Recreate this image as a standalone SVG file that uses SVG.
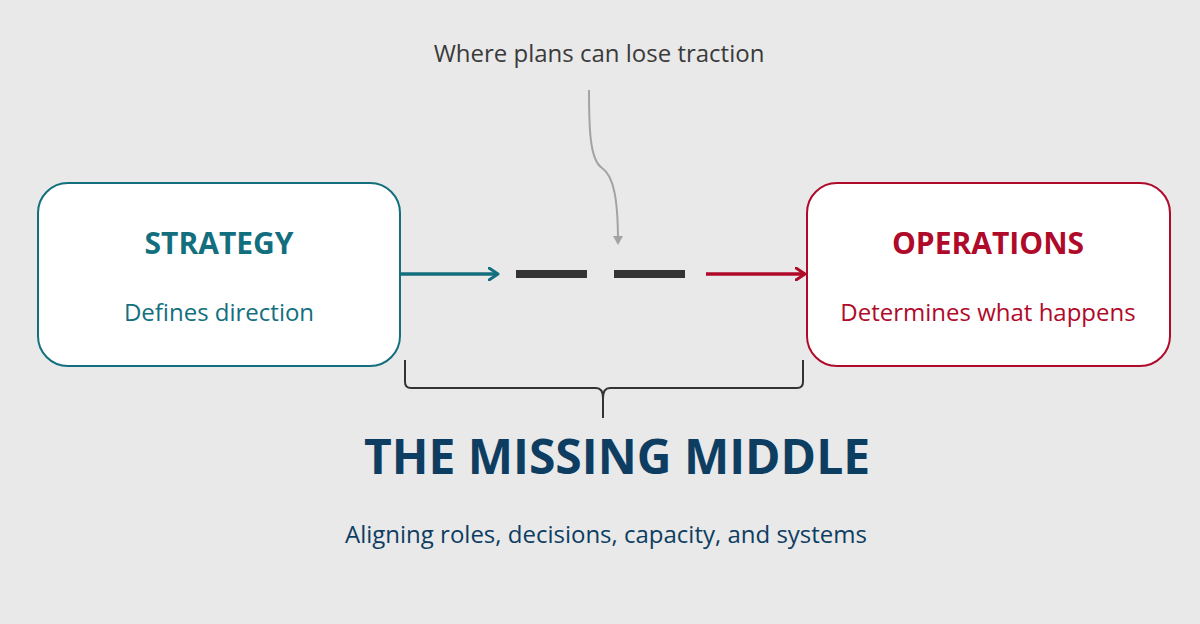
<svg xmlns="http://www.w3.org/2000/svg" width="1200" height="624" viewBox="0 0 1200 624">
<style>
text{font-family:"Open Sans","Noto Sans",sans-serif;text-anchor:middle}
.box{fill:#fff;stroke-width:2}
</style>
<defs>
<marker id="ta" markerWidth="12" markerHeight="14" refX="10" refY="7" orient="auto" markerUnits="userSpaceOnUse"><path d="M1,1 L10,7 L1,13" fill="none" stroke="#136f7e" stroke-width="3" stroke-linecap="round" stroke-linejoin="round"/></marker>
<marker id="ra" markerWidth="12" markerHeight="14" refX="10" refY="7" orient="auto" markerUnits="userSpaceOnUse"><path d="M1,1 L10,7 L1,13" fill="none" stroke="#b00a2a" stroke-width="3" stroke-linecap="round" stroke-linejoin="round"/></marker>
<marker id="ga" markerWidth="10" markerHeight="10" refX="5" refY="8" orient="auto" markerUnits="userSpaceOnUse"><path d="M1,1 L5,9 L9,1 Z" fill="#a3a3a3" transform="rotate(-90 5 5)"/></marker>
</defs>
<rect width="1200" height="624" fill="#e9e9e9"/>
<text x="599" y="62" font-size="24" fill="#3a3a3a">Where plans can lose traction</text>
<g id="strategy">
<rect class="box" x="38" y="183" width="362" height="183" rx="30" stroke="#136f7e"/>
<text x="219" y="254" font-size="30" font-weight="bold" fill="#136f7e">STRATEGY</text>
<text x="219" y="321" font-size="24" fill="#136f7e">Defines direction</text>
</g>
<g id="operations">
<rect class="box" x="807" y="183" width="363" height="183" rx="30" stroke="#b00a2a"/>
<text x="988" y="254" font-size="30" font-weight="bold" fill="#b00a2a">OPERATIONS</text>
<text x="988" y="321" font-size="24" fill="#b00a2a">Determines what happens</text>
</g>
<g id="connectors">
<path d="M589,90 C589,130 590,160 602,168 C614,176 618,200 618,243" fill="none" stroke="#a3a3a3" stroke-width="2"/>
<path d="M613,236 L618,245 L623,236 Z" fill="#a3a3a3"/>
<line x1="400" y1="274" x2="498" y2="274" stroke="#136f7e" stroke-width="3.5" marker-end="url(#ta)"/>
<line x1="706" y1="274" x2="805" y2="274" stroke="#b00a2a" stroke-width="3.5" marker-end="url(#ra)"/>
<line x1="516" y1="274" x2="587" y2="274" stroke="#333" stroke-width="8"/>
<line x1="614" y1="274" x2="685" y2="274" stroke="#333" stroke-width="8"/>
<path d="M405,360 L405,382 Q405,388 411,388 L596,388 Q603,388 603,398 L603,418 M603,418 L603,398 Q603,388 610,388 L797,388 Q803,388 803,382 L803,360" fill="none" stroke="#333" stroke-width="2"/>
</g>
<text x="617" y="474" font-size="48" font-weight="bold" fill="#0e3d62">THE MISSING MIDDLE</text>
<text x="606" y="543" font-size="24" fill="#0e3d62">Aligning roles, decisions, capacity, and systems</text>
</svg>
